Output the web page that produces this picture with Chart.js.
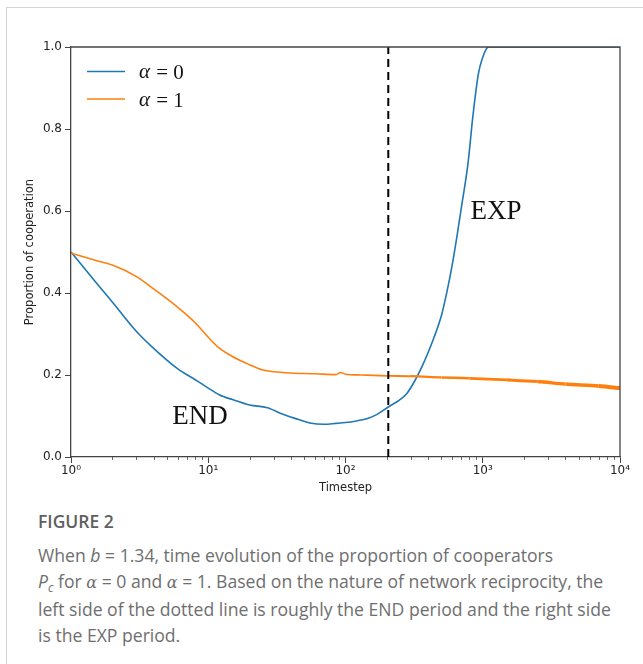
<!DOCTYPE html>
<html>
<head>
<meta charset="utf-8">
<script src="https://cdn.jsdelivr.net/npm/chart.js@4.4.1/dist/chart.umd.min.js"></script>
<style>
  body { margin:0; background:#fff; width:643px; height:664px; position:relative; overflow:hidden; font-family:"Open Sans", sans-serif; }
  #frame { position:absolute; left:6px; top:7px; right:0; bottom:0; border-left:1px solid #d4d4d4; border-top:1px solid #d4d4d4; }
  #plot { position:absolute; left:0; top:0; }
  #cap { position:absolute; left:38px; top:508px; width:605px; color:#6e6e6e; }
  #cap .fig { font-size:17.5px; font-weight:600; color:#5f5f5f; line-height:26px; margin-bottom:8px; }
  #cap .txt { font-size:17.6px; line-height:26px; white-space:nowrap; }
  #cap i.g { font-family:"DejaVu Serif", serif; font-size:16px; }
  #cap sub { font-size:12px; vertical-align:-4px; line-height:0; }
</style>
</head>
<body>
<div id="frame"></div>
<canvas id="plot" width="643" height="500"></canvas>
<div id="cap">
  <div class="fig">FIGURE 2</div>
  <div class="txt">When <i>b</i> = 1.34, time evolution of the proportion of cooperators<br><i>P</i><sub><i>c</i></sub> for <i class="g">α</i> = 0 and <i class="g">α</i> = 1. Based on the nature of network reciprocity, the<br>left side of the dotted line is roughly the END period and the right side<br>is the EXP period.</div>
</div>
<script>
// datos
const blueT = [1, 1.5, 2, 3, 4, 6, 8, 10, 12, 15, 20, 27, 35, 45, 55, 70, 85, 100, 120, 145, 170, 205, 240, 280, 320, 360, 400, 440, 500, 550, 600, 650, 700, 780, 850, 930, 1000, 1060, 1100, 10000];
const blueP = [0.500, 0.428, 0.378, 0.306, 0.265, 0.215, 0.189, 0.168, 0.152, 0.140, 0.127, 0.120, 0.104, 0.092, 0.083, 0.080, 0.082, 0.084, 0.088, 0.094, 0.104, 0.122, 0.136, 0.155, 0.186, 0.220, 0.255, 0.290, 0.345, 0.405, 0.470, 0.540, 0.610, 0.715, 0.835, 0.935, 0.975, 0.995, 1.000, 1.000];

const orangeT = [1, 1.5, 2, 3, 4, 6, 8, 10, 12, 15, 20, 25, 30, 40, 60, 85, 92, 100, 130, 200, 300, 500, 800, 1500, 2500, 4000, 7000, 10000];
const orangeP = [0.497, 0.480, 0.468, 0.440, 0.410, 0.365, 0.328, 0.292, 0.266, 0.245, 0.225, 0.212, 0.208, 0.205, 0.203, 0.201, 0.206, 0.202, 0.200, 0.198, 0.197, 0.194, 0.192, 0.188, 0.184, 0.178, 0.173, 0.168];

const dashT = [205, 205];
const dashP = [0, 1];

const xTicks = [1, 10, 100, 1000, 10000];
const xTickLabels = ['10⁰', '10¹', '10²', '10³', '10⁴'];
const yTicks = [0, 0.2, 0.4, 0.6, 0.8, 1.0];

const legendItems = [
  { color: '#1f77b4', value: '0' },
  { color: '#ff7f0e', value: '1' }
];

const toPts = (xs, ys) => xs.map((x, i) => ({ x, y: ys[i] }));

// caja del eje (arriba y derecha)
const framePlugin = {
  id: 'frame',
  afterDraw(chart) {
    const { ctx, chartArea: a } = chart;
    ctx.save();
    ctx.strokeStyle = '#444';
    ctx.lineWidth = 1.3;
    ctx.beginPath();
    ctx.moveTo(a.left, a.top);
    ctx.lineTo(a.right, a.top);
    ctx.lineTo(a.right, a.bottom);
    ctx.stroke();
    ctx.restore();
  }
};

// ticks menores del eje log
const minorTicks = {
  id: 'minorTicks',
  afterDraw(chart) {
    const { ctx, chartArea: a, scales: { x } } = chart;
    ctx.save();
    ctx.strokeStyle = '#444';
    ctx.lineWidth = 0.8;
    for (let d = 0; d < 4; d++) {
      for (let k = 2; k <= 9; k++) {
        const px = Math.round(x.getPixelForValue(k * Math.pow(10, d))) + 0.5;
        ctx.beginPath();
        ctx.moveTo(px, a.bottom);
        ctx.lineTo(px, a.bottom + 3);
        ctx.stroke();
      }
    }
    ctx.restore();
  }
};

// leyenda y textos END / EXP
const annotations = {
  id: 'annotations',
  afterDraw(chart) {
    const { ctx, chartArea: a } = chart;
    ctx.save();
    legendItems.forEach((it, i) => {
      const y = a.top + 24.5 + i * 27.5;
      ctx.strokeStyle = it.color;
      ctx.lineWidth = 1.6;
      ctx.beginPath();
      ctx.moveTo(a.left + 16, y);
      ctx.lineTo(a.left + 54, y);
      ctx.stroke();
      ctx.fillStyle = '#111';
      ctx.textBaseline = 'middle';
      ctx.textAlign = 'left';
      ctx.font = 'italic 21px "Liberation Serif"';
      ctx.fillText('α', a.left + 68, y + 1);
      const w = ctx.measureText('α').width;
      ctx.font = '21px "Liberation Serif"';
      ctx.fillText(' = ' + it.value, a.left + 69 + w, y + 2);
    });
    ctx.font = '27px "Liberation Serif"';
    ctx.fillStyle = '#111';
    ctx.textAlign = 'center';
    ctx.textBaseline = 'middle';
    ctx.fillText('END', 200, 417);
    ctx.fillText('EXP', 496, 212);
    ctx.restore();
  }
};

new Chart(document.getElementById('plot'), {
  type: 'line',
  data: {
    datasets: [
      {
        label: 'dash',
        data: toPts(dashT, dashP),
        borderColor: '#000',
        borderWidth: 2,
        borderDash: [8, 5],
        pointRadius: 0,
        order: 0
      },
      {
        label: 'α = 1',
        data: toPts(orangeT, orangeP),
        borderColor: '#ff7f0e',
        borderWidth: 1.6,
        pointRadius: 0,
        cubicInterpolationMode: 'monotone',
        segment: {
          borderWidth: c => 1.6 + Math.max(0, Math.log10(c.p0.parsed.x) - 2) * 1.3
        },
        order: 1
      },
      {
        label: 'α = 0',
        data: toPts(blueT, blueP),
        borderColor: '#1f77b4',
        borderWidth: 1.6,
        pointRadius: 0,
        cubicInterpolationMode: 'monotone',
        order: 2
      }
    ]
  },
  options: {
    responsive: false,
    animation: false,
    devicePixelRatio: 1,
    layout: { padding: { left: 23, top: 47, right: 23, bottom: 3 } },
    plugins: { legend: { display: false }, tooltip: { enabled: false } },
    scales: {
      x: {
        type: 'logarithmic',
        min: 1,
        max: 10000,
        afterBuildTicks: s => { s.ticks = xTicks.map(v => ({ value: v })); },
        afterFit: s => { s.height = 40; },
        ticks: {
          autoSkip: false,
          maxRotation: 0,
          padding: 1,
          color: '#222',
          font: { family: 'DejaVu Sans', size: 12 },
          callback: (v, i) => xTickLabels[i]
        },
        grid: { drawOnChartArea: false, tickLength: 6, tickColor: '#444', tickWidth: 1 },
        border: { color: '#444', width: 1.3 },
        title: {
          display: true,
          text: 'Timestep',
          color: '#222',
          font: { family: 'DejaVu Sans', size: 11.5 },
          padding: { top: 0, bottom: 2 }
        }
      },
      y: {
        min: 0,
        max: 1,
        afterBuildTicks: s => { s.ticks = yTicks.map(v => ({ value: v })); },
        afterFit: s => { s.width = 48; },
        ticks: {
          padding: 3,
          color: '#222',
          font: { family: 'DejaVu Sans', size: 12 },
          callback: v => v.toFixed(1)
        },
        grid: { drawOnChartArea: false, tickLength: 6, tickColor: '#444', tickWidth: 1 },
        border: { color: '#444', width: 1.3 },
        title: {
          display: true,
          text: 'Proportion of cooperation',
          color: '#222',
          font: { family: 'DejaVu Sans', size: 11.5 },
          padding: 0
        }
      }
    }
  },
  plugins: [framePlugin, minorTicks, annotations]
});
</script>
</body>
</html>
